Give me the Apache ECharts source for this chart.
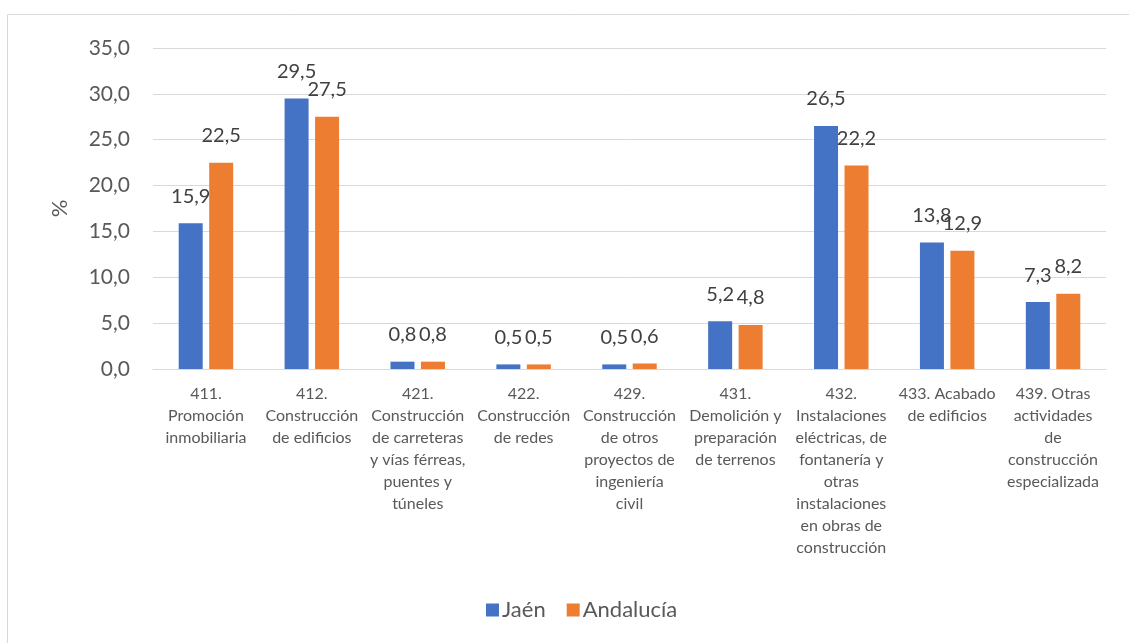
<!DOCTYPE html>
<html>
<head>
<meta charset="utf-8">
<script src="https://cdn.jsdelivr.net/npm/echarts@6/dist/echarts.min.js"></script>
<style>
  html, body { margin: 0; padding: 0; background: #fff; }
  #chart { width: 1129px; height: 643px; }
</style>
</head>
<body>
<div id="chart"></div>
<script>
// categories (line breaks as in the original chart)
const categories = [
  '411.\nPromoción\ninmobiliaria',
  '412.\nConstrucción\nde edificios',
  '421.\nConstrucción\nde carreteras\ny vías férreas,\npuentes y\ntúneles',
  '422.\nConstrucción\nde redes',
  '429.\nConstrucción\nde otros\nproyectos de\ningeniería\ncivil',
  '431.\nDemolición y\npreparación\nde terrenos',
  '432.\nInstalaciones\neléctricas, de\nfontanería y\notras\ninstalaciones\nen obras de\nconstrucción',
  '433. Acabado\nde edificios',
  '439. Otras\nactividades\nde\nconstrucción\nespecializada'
]
const jaen = [15.9, 29.5, 0.8, 0.5, 0.5, 5.2, 26.5, 13.8, 7.3]
const andalucia = [22.5, 27.5, 0.8, 0.5, 0.6, 4.8, 22.2, 12.9, 8.2]

const FONT = 'Lato'
const comma = v => v.toFixed(1).replace('.', ',')

let valueLabel = {
  show: true,
  position: 'top',
  distance: 17,
  fontFamily: FONT,
  fontSize: 20,
  color: '#404040',
  formatter: p => comma(p.value)
}

let chart = echarts.init(document.getElementById('chart'))
chart.setOption({
  animation: false,
  textStyle: { fontFamily: FONT },
  graphic: [{
    type: 'rect',
    shape: { x: 7.5, y: 14.5, width: 1200, height: 700 },
    style: { fill: 'none', stroke: '#d9d9d9', lineWidth: 1 },
    silent: true
  }],
  grid: { left: 153, right: 23, top: 48, bottom: 274 },
  legend: {
    top: 594,
    left: 481,
    itemWidth: 13,
    itemHeight: 13,
    itemGap: 21,
    icon: 'rect',
    textStyle: { fontFamily: FONT, fontSize: 22, color: '#595959', padding: [0, 0, 0, -2] },
    data: ['Jaén', 'Andalucía']
  },
  xAxis: {
    type: 'category',
    data: categories,
    axisLine: { lineStyle: { color: '#d9d9d9', width: 1 } },
    axisTick: { show: false },
    axisLabel: {
      interval: 0,
      margin: 14,
      fontFamily: FONT,
      fontSize: 16,
      lineHeight: 22,
      color: '#595959'
    }
  },
  yAxis: {
    type: 'value',
    min: 0,
    max: 35,
    interval: 5,
    name: '%',
    nameLocation: 'middle',
    nameGap: 82,
    nameTextStyle: { fontFamily: FONT, fontSize: 22, color: '#595959' },
    axisLine: { show: false },
    axisTick: { show: false },
    splitLine: { lineStyle: { color: '#d9d9d9', width: 1 } },
    axisLabel: {
      margin: 23,
      fontFamily: FONT,
      fontSize: 21,
      color: '#595959',
      formatter: v => comma(v)
    }
  },
  series: [
    {
      name: 'Jaén',
      type: 'bar',
      data: jaen,
      barWidth: 24,
      barGap: '27%',
      itemStyle: { color: '#4472C4' },
      label: valueLabel
    },
    {
      name: 'Andalucía',
      type: 'bar',
      data: andalucia,
      barWidth: 24,
      barGap: '27%',
      itemStyle: { color: '#ED7D31' },
      label: valueLabel
    }
  ]
})
</script>
</body>
</html>
